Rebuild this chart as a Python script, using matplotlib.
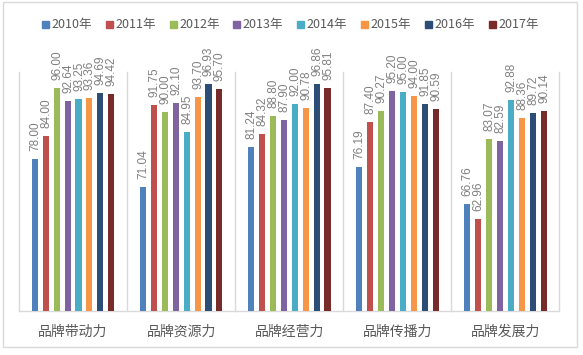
import matplotlib
matplotlib.use("Agg")
import matplotlib.pyplot as plt
from matplotlib.patches import Rectangle
from matplotlib import font_manager
import numpy as np

categories = ["品牌带动力", "品牌资源力", "品牌经营力", "品牌传播力", "品牌发展力"]
years = ["2010年", "2011年", "2012年", "2013年", "2014年", "2015年", "2016年", "2017年"]
values = {
    "2010年": [78.00, 71.04, 81.24, 76.19, 66.76],
    "2011年": [84.00, 91.75, 84.32, 87.40, 62.96],
    "2012年": [96.00, 90.00, 88.80, 90.27, 83.07],
    "2013年": [92.64, 92.10, 87.90, 95.20, 82.59],
    "2014年": [93.25, 84.95, 92.00, 95.00, 92.88],
    "2015年": [93.36, 93.70, 90.78, 94.00, 88.36],
    "2016年": [94.69, 96.93, 96.86, 91.85, 89.72],
    "2017年": [94.42, 95.70, 95.81, 90.59, 90.14],
}
colors = ["#4F81BD", "#C0504D", "#9BBB59", "#8064A2", "#4BACC6", "#F79646", "#2C4D75", "#772C2A"]

plt.rcParams['font.family'] = ['Noto Sans CJK SC', 'DejaVu Sans']

names = {f.name for f in font_manager.fontManager.ttflist}
num_font = 'Liberation Sans Narrow' if 'Liberation Sans Narrow' in names else 'Liberation Sans'

W, H = 583, 355
fig = plt.figure(figsize=(W / 100, H / 100), dpi=100)
ax = fig.add_axes([19 / W, 1 - 311 / H, (559.3 - 19) / W, (311 - 71.7) / H])

x = np.arange(len(categories))
pitch = 0.1014
width = 0.056
for i, yr in enumerate(years):
    off = (i - 3.5) * pitch
    ax.bar(x + off, values[yr], width=width, bottom=0, color=colors[i], zorder=3)
    for xi, v in zip(x + off, values[yr]):
        ax.annotate(f"{v:.2f}", xy=(xi, v), xytext=(0.5, 8), textcoords='offset pixels',
                    rotation=90, ha='center', va='bottom', fontsize=8.5,
                    color='#808080', family=num_font)

ax.set_xlim(-0.5, len(categories) - 0.5)
ax.set_ylim(40, 100)
for b in np.arange(-0.5, len(categories), 1.0):
    ax.axvline(b, color='#D9D9D9', lw=1, zorder=1, clip_on=False)
for s in ['left', 'right', 'top']:
    ax.spines[s].set_visible(False)
ax.spines['bottom'].set_color('#D9D9D9')
ax.spines['bottom'].set_linewidth(1)
ax.set_yticks([])
ax.set_xticks(x)
ax.set_xticklabels(categories, fontsize=10, color='#595959')
ax.tick_params(axis='x', length=0, pad=10)

# legend
for i, yr in enumerate(years):
    x0 = 41.7 + i * 63.9
    fig.patches.append(Rectangle((x0 / W, 1 - 28 / H), 7 / W, 7 / H,
                                 transform=fig.transFigure, color=colors[i]))
    fig.text((x0 + 9.5) / W, 1 - 24.5 / H, yr, fontsize=9, color='#595959',
             ha='left', va='center')

# chart border
fig.patches.append(Rectangle((3 / W, 1 - 347 / H), 574 / W, 345 / H,
                             transform=fig.transFigure, fill=False,
                             edgecolor='#D9D9D9', lw=1))

fig.savefig("out.png", dpi=100)
